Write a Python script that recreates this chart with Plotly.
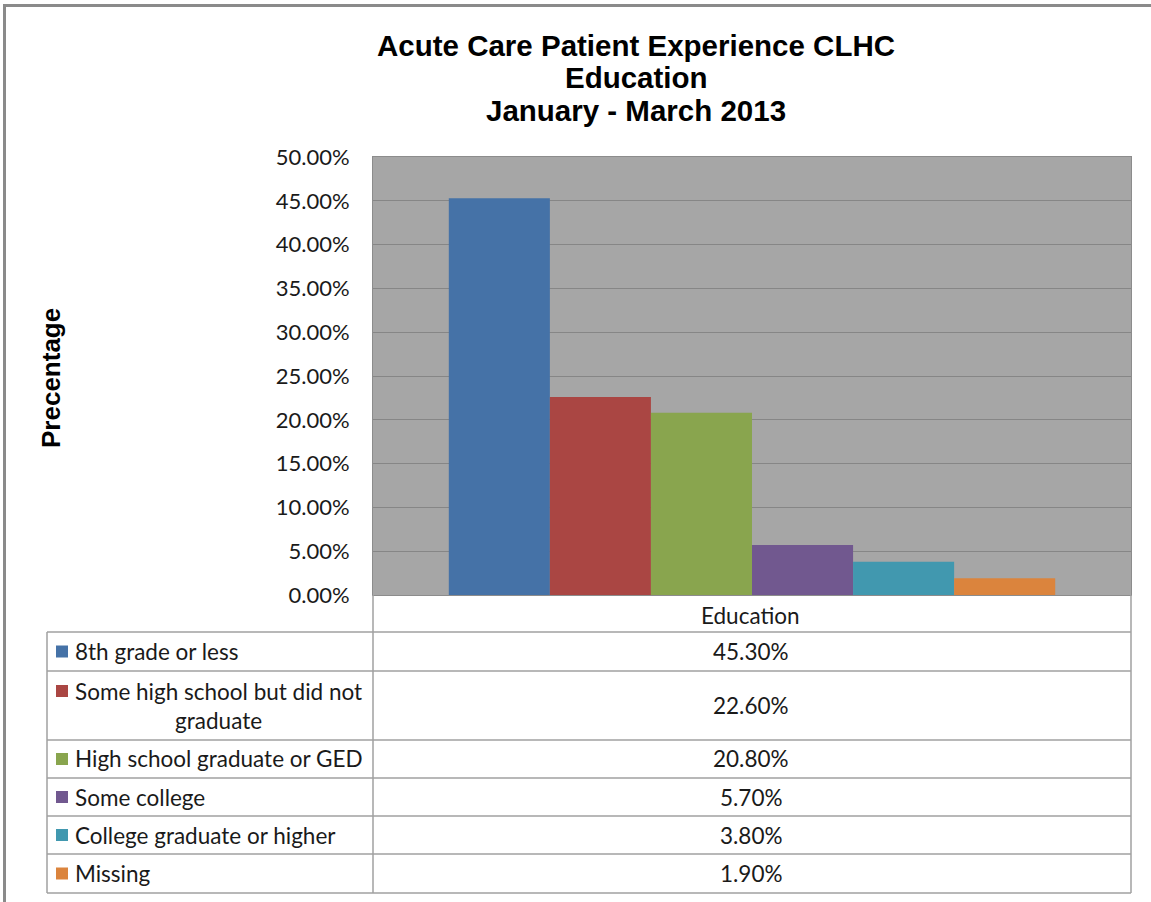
import plotly.graph_objects as go

categories = ["8th grade or less", "Some high school but did not graduate",
              "High school graduate or GED", "Some college",
              "College graduate or higher", "Missing"]
values = [45.30, 22.60, 20.80, 5.70, 3.80, 1.90]
colors = ["#4572A7", "#AA4643", "#89A54E", "#71588F", "#4198AF", "#DB843D"]
group_label = "Education"
title_lines = ["Acute Care Patient Experience CLHC", "Education", "January - March 2013"]
y_title = "Precentage"

W, H = 1151, 902
L, R, T, B = 373, 1131, 157, 595   # plot area in page pixels


def px(x):
    return (x - L) / (R - L)


def py(y):
    return (B - y) / (B - T)


fig = go.Figure()
for cat, val, col in zip(categories, values, colors):
    fig.add_trace(go.Bar(x=[group_label], y=[val / 100], name=cat,
                         marker=dict(color=col, line=dict(width=0)),
                         showlegend=False))

fig.update_layout(
    width=W, height=H,
    margin=dict(l=L, r=W - R, t=T, b=H - B, pad=0),
    paper_bgcolor="white", plot_bgcolor="#A6A6A6",
    barmode="group", bargap=0.2, bargroupgap=0,
    font=dict(family="Lato", color="#1a1a1a"),
)
fig.update_xaxes(showticklabels=False, showgrid=False, showline=True,
                 linecolor="#8c8c8c", linewidth=1, mirror=True, ticks="")
fig.update_yaxes(range=[0, 0.5], dtick=0.05, tickformat=".2%",
                 showgrid=True, gridcolor="#868686", gridwidth=1,
                 showline=True, linecolor="#8c8c8c", mirror=True,
                 zeroline=False, ticks="", ticklabelstandoff=18,
                 tickfont=dict(family="Lato", size=22, color="#1a1a1a"))

shapes = []
# outer chart border (left and top edges)
bc = "#8a8a8a"
shapes.append(dict(type="line", xref="paper", yref="paper",
                   x0=px(4), x1=px(1151), y0=py(5.5), y1=py(5.5),
                   line=dict(color=bc, width=3)))
shapes.append(dict(type="line", xref="paper", yref="paper",
                   x0=px(4.5), x1=px(4.5), y0=py(4), y1=py(902),
                   line=dict(color=bc, width=3)))
# table lines
gc = "#a0a0a0"
row_edges = [632, 671, 740, 778, 816, 854, 893]
for ry in row_edges:
    shapes.append(dict(type="line", xref="paper", yref="paper",
                       x0=px(47), x1=px(R), y0=py(ry), y1=py(ry),
                       line=dict(color=gc, width=1.5)))
shapes.append(dict(type="line", xref="paper", yref="paper",
                   x0=px(47), x1=px(47), y0=py(632), y1=py(893),
                   line=dict(color=gc, width=1.5)))
for vx in [L, R]:
    shapes.append(dict(type="line", xref="paper", yref="paper",
                       x0=px(vx), x1=px(vx), y0=py(B), y1=py(893),
                       line=dict(color=gc, width=1.5)))

annotations = []
# title
for line, yy in zip(title_lines, [45, 77, 111]):
    annotations.append(dict(text="<b>" + line + "</b>", xref="paper", yref="paper",
                            x=px(636), y=py(yy), xanchor="center", yanchor="middle",
                            showarrow=False,
                            font=dict(family="Liberation Sans", size=29.5, color="black")))
# y title
annotations.append(dict(text="<b>" + y_title + "</b>", xref="paper", yref="paper",
                        x=px(51), y=py(378), textangle=-90, xanchor="center",
                        yanchor="middle", showarrow=False,
                        font=dict(family="Liberation Sans", size=26, color="black")))
# header
annotations.append(dict(text=group_label, xref="paper", yref="paper",
                        x=px(750), y=py(615), showarrow=False,
                        xanchor="center", yanchor="middle",
                        font=dict(family="Lato", size=22.5, color="#1a1a1a")))

row_tops = [632, 671, 740, 778, 816, 854]
row_bots = [671, 740, 778, 816, 854, 893]
wrapped = {"Some high school but did not graduate": "Some high school but did not<br>graduate"}
for cat, val, col, t, b in zip(categories, values, colors, row_tops, row_bots):
    cy = (t + b) / 2
    label = wrapped.get(cat, cat)
    first_line_y = cy if "<br>" not in label else cy - 14.5
    shapes.append(dict(type="rect", xref="paper", yref="paper",
                       x0=px(56), x1=px(68), y0=py(first_line_y - 6), y1=py(first_line_y + 6),
                       fillcolor=col, line=dict(width=0)))
    annotations.append(dict(text=label, xref="paper", yref="paper",
                            x=px(73), y=py(cy), xanchor="left", yanchor="middle",
                            align="center", showarrow=False,
                            font=dict(family="Lato", size=22.5, color="#1a1a1a")))
    annotations.append(dict(text=f"{val:.2f}%", xref="paper", yref="paper",
                            x=px(751), y=py(cy), xanchor="center",
                            yanchor="middle", showarrow=False,
                            font=dict(family="Lato", size=22.5, color="#1a1a1a")))

fig.update_layout(shapes=shapes, annotations=annotations)
# remove the default 8px page margin so the figure fills the window exactly
fig.write_html("out.html", config={"displayModeBar": False},
               post_script="document.body.style.margin='0';document.body.style.overflow='hidden';")
